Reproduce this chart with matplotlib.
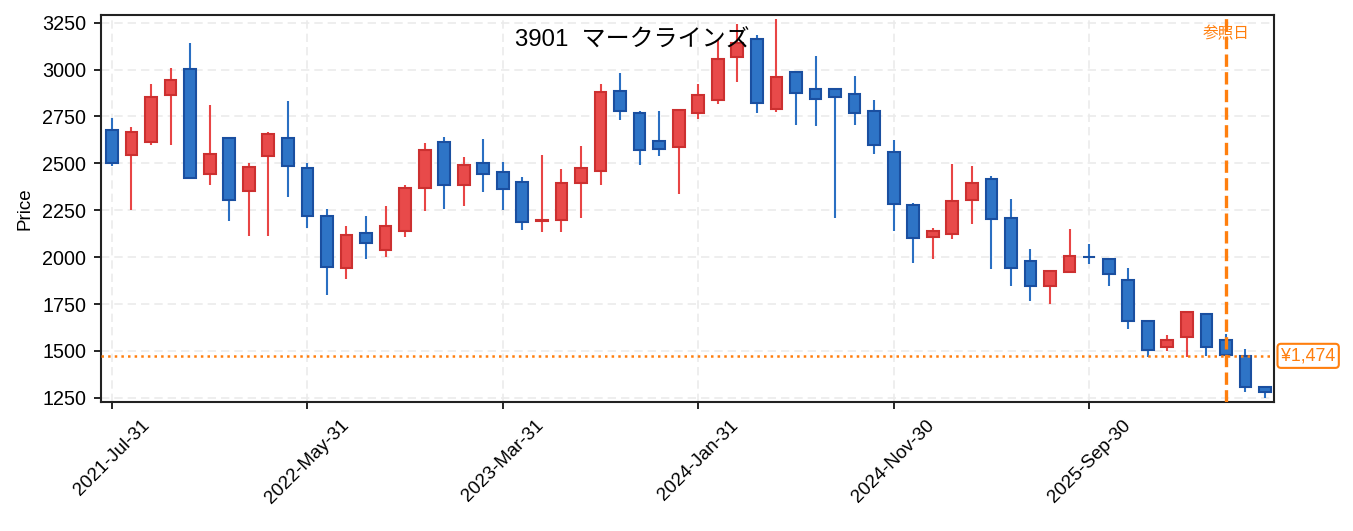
import numpy as np
import pandas as pd
import matplotlib
matplotlib.use("Agg")
import matplotlib.pyplot as plt
import matplotlib.transforms as mtransforms

plt.rcParams['font.family'] = ['Liberation Sans', 'Noto Sans CJK JP', 'DejaVu Sans']

# monthly OHLC, 2021-07 .. 2026-06
dates = pd.date_range('2021-07-31', periods=60, freq='ME')
opens = [2676, 2546, 2614, 2865, 3005, 2445, 2633, 2355, 2537, 2633,
         2473, 2222, 1940, 2128, 2037, 2142, 2371, 2612, 2387, 2500,
         2452, 2399, 2192, 2200, 2397, 2459, 2885, 2766, 2617, 2585,
         2770, 2837, 3066, 3165, 2789, 2986, 2894, 2894, 2872, 2777,
         2559, 2277, 2105, 2124, 2307, 2415, 2208, 1978, 1847, 1922,
         2003, 1990, 1876, 1660, 1521, 1573, 1699, 1560, 1473, 1309]
highs = [2741, 2693, 2924, 3007, 3140, 2810, 2633, 2502, 2665, 2833,
         2502, 2257, 2168, 2222, 2275, 2387, 2608, 2640, 2535, 2631,
         2509, 2427, 2544, 2470, 2594, 2924, 2982, 2778, 2780, 2783,
         2924, 3158, 3243, 3183, 3268, 2986, 3073, 2901, 2966, 2839,
         2626, 2289, 2153, 2496, 2488, 2434, 2311, 2044, 1931, 2152,
         2070, 1990, 1944, 1660, 1584, 1710, 1699, 1589, 1509, 1309]
lows = [2484, 2254, 2596, 2599, 2424, 2383, 2192, 2115, 2112, 2319,
        2154, 1798, 1885, 1991, 2000, 2106, 2245, 2255, 2271, 2346,
        2254, 2144, 2133, 2133, 2207, 2383, 2729, 2489, 2537, 2337,
        2734, 2819, 2936, 2766, 2773, 2707, 2697, 2207, 2706, 2548,
        2142, 1968, 1989, 2096, 2176, 1938, 1849, 1764, 1748, 1922,
        1962, 1849, 1619, 1466, 1502, 1466, 1475, 1466, 1282, 1247]
closes = [2502, 2665, 2856, 2947, 2424, 2548, 2307, 2479, 2654, 2484,
          2222, 1950, 2117, 2078, 2165, 2367, 2569, 2387, 2489, 2442,
          2365, 2190, 2200, 2394, 2473, 2878, 2780, 2573, 2578, 2783,
          2862, 3059, 3140, 2823, 2963, 2876, 2844, 2855, 2768, 2598,
          2285, 2103, 2138, 2298, 2394, 2206, 1944, 1847, 1924, 2004,
          2000, 1912, 1660, 1505, 1559, 1710, 1519, 1480, 1307, 1280]

ref_index = 57
ref_price = 1474
title = "3901  マークラインズ"

o = np.array(opens)
h = np.array(highs)
l = np.array(lows)
c = np.array(closes)
x = np.arange(len(dates))
up = c >= o

fig = plt.figure(figsize=(1353 / 150, 531 / 150), dpi=150)
ax = fig.add_axes([101 / 1353, 1 - 402 / 531, 1173 / 1353, 387 / 531])

ax.grid(True, linestyle=(0, (5, 3)), color='#ebebeb', linewidth=0.8)
ax.set_axisbelow(True)

red_face, red_edge = '#e84a4a', '#cc3030'
blue_face, blue_edge = '#2e74c6', '#1a4fa0'

ax.vlines(x[up], l[up], h[up], color='#e84545', linewidth=1.0, zorder=2)
ax.vlines(x[~up], l[~up], h[~up], color='#2a6fc2', linewidth=1.0, zorder=2)
ax.bar(x[up], c[up] - o[up], bottom=o[up], width=0.6,
       color=red_face, edgecolor=red_edge, linewidth=1.0, zorder=3)
ax.bar(x[~up], o[~up] - c[~up], bottom=c[~up], width=0.6,
       color=blue_face, edgecolor=blue_edge, linewidth=1.0, zorder=3)

ax.axhline(ref_price, color='#ff7f0e', linestyle=':', linewidth=1.2, zorder=4)
ax.axvline(ref_index, color='#ff7f0e', linestyle='--', linewidth=1.6, zorder=4)
ax.text(ref_index, 0.953, "参照日", transform=ax.get_xaxis_transform(),
        ha='center', va='center', fontsize=7.5, color='#ff7f0e', zorder=5)
trans = mtransforms.blended_transform_factory(ax.transAxes, ax.transData)
ax.text(1.006, ref_price, f"¥{ref_price:,}", transform=trans, ha='left', va='center',
        fontsize=8.5, color='#ff7f0e',
        bbox=dict(boxstyle='round,pad=0.2', facecolor='white', edgecolor='#ff7f0e', linewidth=1.0))

ax.text(0.453, 0.935, title, transform=ax.transAxes, ha='center', va='center', fontsize=11.5)

ticks = x[::10]
ax.set_xticks(ticks)
ax.set_xticklabels([d.strftime('%Y-%b-%d') for d in dates[::10]], rotation=45, fontsize=9)
ax.set_yticks([1250, 1500, 1750, 2000, 2250, 2500, 2750, 3000, 3250])
ax.tick_params(axis='y', labelsize=9.5)
ax.set_ylabel("Price", fontsize=9)
ax.set_xlim(-0.56, 59.46)
ax.set_ylim(1228, 3291)
for s in ax.spines.values():
    s.set_color('#222222')
    s.set_linewidth(1.0)

fig.savefig("out.png", dpi=150)
